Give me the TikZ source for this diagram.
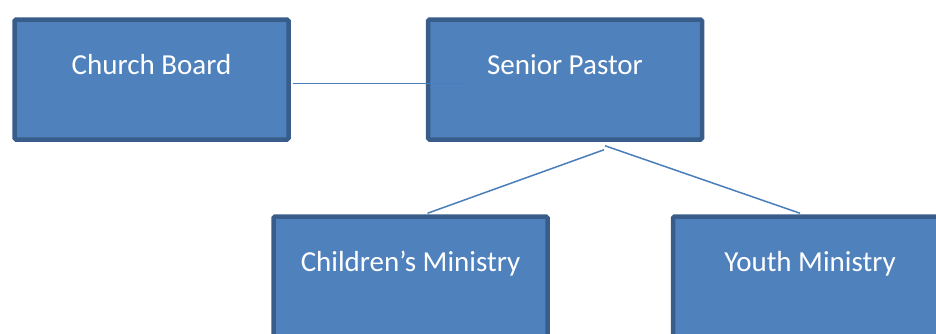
\documentclass[tikz,border=0pt]{standalone}
\usepackage{fontspec}
\setmainfont{Carlito}
\usetikzlibrary{calc}
\definecolor{boxfill}{HTML}{4F81BD}
\definecolor{boxline}{HTML}{385D8A}
\definecolor{linkblue}{HTML}{4A7EBB}
\tikzset{
  orgbox/.style={draw=boxline, fill=boxfill, line width=4.5pt, rounded corners=1.5pt,
    minimum width=274pt, inner sep=0pt, text height=55pt, text depth=65pt,
    text=white, font=\fontsize{29}{34}\selectfont},
  link/.style={draw=linkblue, line width=1.5pt},
}

\begin{document}
\begin{tikzpicture}[x=1pt, y=-1pt]

\useasboundingbox (0,0) rectangle (936,333);
\clip (0,0) rectangle (936,333);

\node[orgbox] (board) at (151.5, 79.5) {Church Board};
\node[orgbox] (pastor) at (565, 79.5) {Senior Pastor};
\node[orgbox] (children) at (410.5, 276.5) {Children’s Ministry};
\node[orgbox] (youth) at (810, 276.5) {Youth Ministry};

\draw[link] ($(board.east)+(2,4)$) -- ($(pastor.west)+(42,4)$);
\draw[link] ($(pastor.south)+(39,8)$) -- ($(children.north)+(17,-1)$);
\draw[link] ($(pastor.south)+(40,4)$) -- ($(youth.north)+(-10,-1)$);

\end{tikzpicture}
\end{document}
